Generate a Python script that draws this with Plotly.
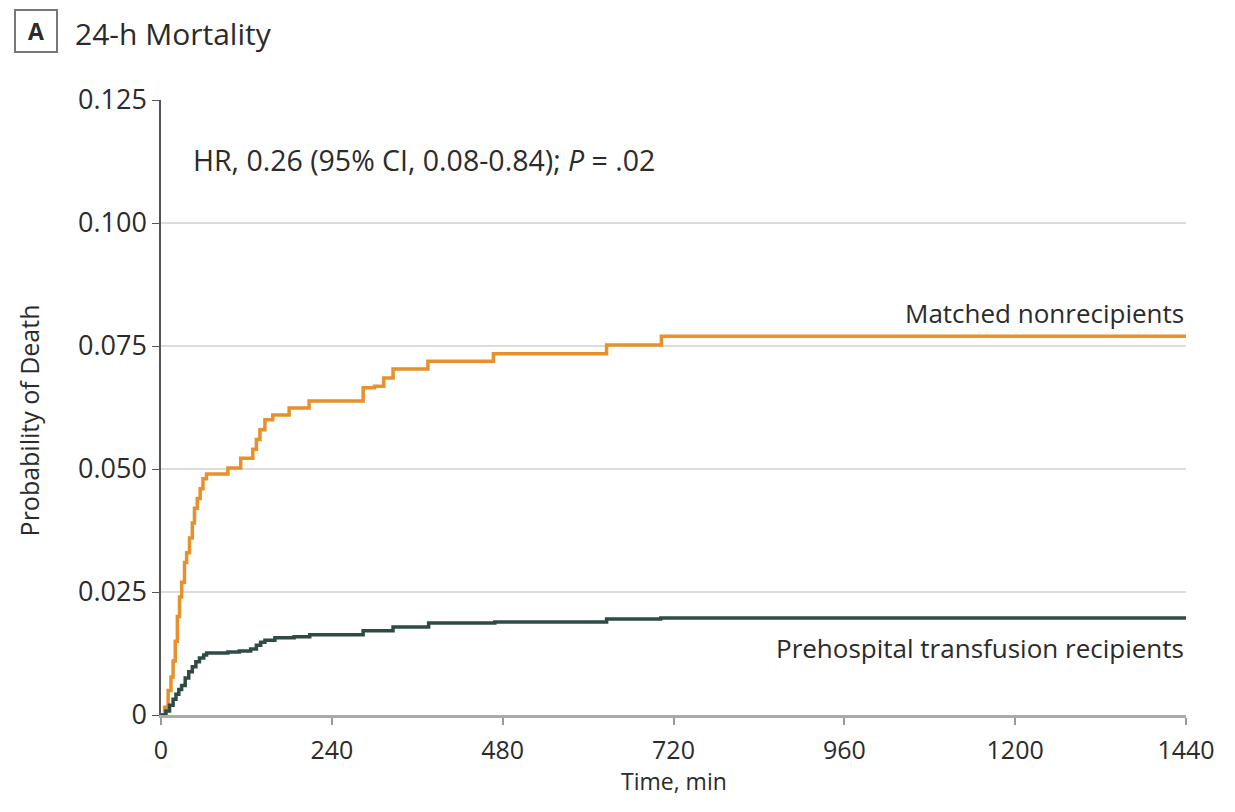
import plotly.graph_objects as go

# Time (min) and cumulative probability of death
nonrecip_t = [0, 5, 10, 14, 17, 20, 23, 26, 29, 33, 36, 40, 44, 47, 51, 55, 59, 64,
              94, 112, 129, 134, 139, 146, 157, 180, 208, 284, 300, 313, 326, 375,
              467, 626, 703, 1440]
nonrecip_p = [0, 0.0016, 0.005, 0.0077, 0.011, 0.015, 0.020, 0.024, 0.027, 0.031,
              0.033, 0.036, 0.039, 0.042, 0.044, 0.046, 0.048, 0.049,
              0.0502, 0.0522, 0.054, 0.056, 0.058, 0.060, 0.061, 0.0624, 0.0638,
              0.0665, 0.0668, 0.0685, 0.0703, 0.0719, 0.0734, 0.0752, 0.0770, 0.0770]

recip_t = [0, 7, 12, 17, 21, 25, 29, 34, 39, 44, 49, 54, 60, 64, 94, 110, 126, 134,
           140, 146, 160, 187, 209, 284, 326, 376, 469, 626, 702, 1440]
recip_p = [0, 0.0008, 0.002, 0.0032, 0.0042, 0.0052, 0.006, 0.0075, 0.0088, 0.0098,
           0.0108, 0.0116, 0.0122, 0.0126, 0.0128, 0.0130, 0.0134, 0.0142, 0.0148,
           0.0152, 0.0157, 0.0159, 0.0163, 0.0171, 0.0179, 0.0187, 0.0189, 0.0195,
           0.0197, 0.0197]

x_ticks = [0, 240, 480, 720, 960, 1200, 1440]
y_ticks = [0, 0.025, 0.050, 0.075, 0.100, 0.125]
y_ticktext = ["0", "0.025", "0.050", "0.075", "0.100", "0.125"]

FONT = "Open Sans"
TXT = "#2b2b2b"
ORANGE = "#E8902C"
GREEN = "#2E4B45"

# the page has an 8px body margin; plot area in page px: left 161, top 100, 1036 x 615
OFF = 8
L, T, PW, PH = 161 - OFF, 100 - OFF, 1036, 615
W, H = 1219, 790


def px_x(page_x):
    return (page_x - OFF - L) / PW


def px_y(page_y):
    return 1 - (page_y - OFF - T) / PH


fig = go.Figure()
fig.add_trace(go.Scatter(x=nonrecip_t, y=nonrecip_p, mode="lines", line=dict(shape="hv", color=ORANGE, width=3.5),
                         name="Matched nonrecipients", showlegend=False))
fig.add_trace(go.Scatter(x=recip_t, y=recip_p, mode="lines", line=dict(shape="hv", color=GREEN, width=3.5),
                         name="Prehospital transfusion recipients", showlegend=False))

fig.update_layout(
    width=W, height=H,
    margin=dict(l=L, r=W - L - PW, t=T, b=H - T - PH, pad=0),
    paper_bgcolor="white", plot_bgcolor="white",
    font=dict(family=FONT, size=23, color=TXT),
    xaxis=dict(range=[0, 1440], tickvals=x_ticks, ticks="outside", ticklen=7, tickcolor="#999", tickwidth=2,
               showline=True, linecolor="#aaa", linewidth=2.5, showgrid=False, zeroline=False,
               ticklabelstandoff=4, tickfont=dict(size=25)),
    yaxis=dict(range=[0, 0.125], tickvals=y_ticks, ticktext=y_ticktext, ticks="outside", ticklen=7,
               tickcolor="#555", showline=True, linecolor="#555", linewidth=1.5,
               showgrid=True, gridcolor="#dcdcdc", gridwidth=2, zeroline=False,
               tickfont=dict(size=27)),
)

# axis titles
fig.add_annotation(x=px_x(680), y=px_y(781), xref="paper", yref="paper", text="Time, min", showarrow=False,
                   xanchor="center", yanchor="middle", font=dict(size=23, color=TXT))
fig.add_annotation(x=px_x(28), y=px_y(420), xref="paper", yref="paper", text="Probability of Death",
                   showarrow=False, textangle=-90, xanchor="center", yanchor="middle",
                   font=dict(size=25, color=TXT))

fig.add_annotation(x=1440, y=0.0772, xref="x", yref="y", text="Matched nonrecipients", showarrow=False,
                   xanchor="right", yanchor="bottom", yshift=2, font=dict(size=26, color=TXT))
fig.add_annotation(x=1440, y=0.0197, xref="x", yref="y", text="Prehospital transfusion recipients", showarrow=False,
                   xanchor="right", yanchor="top", yshift=-10, font=dict(size=26, color=TXT))
fig.add_annotation(x=42, y=0.1128, xref="x", yref="y", text="HR, 0.26 (95% CI, 0.08-0.84); <i>P</i> = .02",
                   showarrow=False, xanchor="left", yanchor="middle", font=dict(size=28.5, color=TXT))
fig.add_annotation(x=px_x(12), y=px_y(31), xref="paper", yref="paper", text="<b>A</b>",
                   showarrow=False, xanchor="left", yanchor="middle", width=38, height=38,
                   bordercolor="#777", borderwidth=2, font=dict(size=23, color=TXT))
fig.add_annotation(x=px_x(72), y=px_y(34), xref="paper", yref="paper", text="24-h Mortality",
                   showarrow=False, xanchor="left", yanchor="middle", font=dict(size=30, color=TXT))

fig.write_html("out.html", config={"displayModeBar": False})
